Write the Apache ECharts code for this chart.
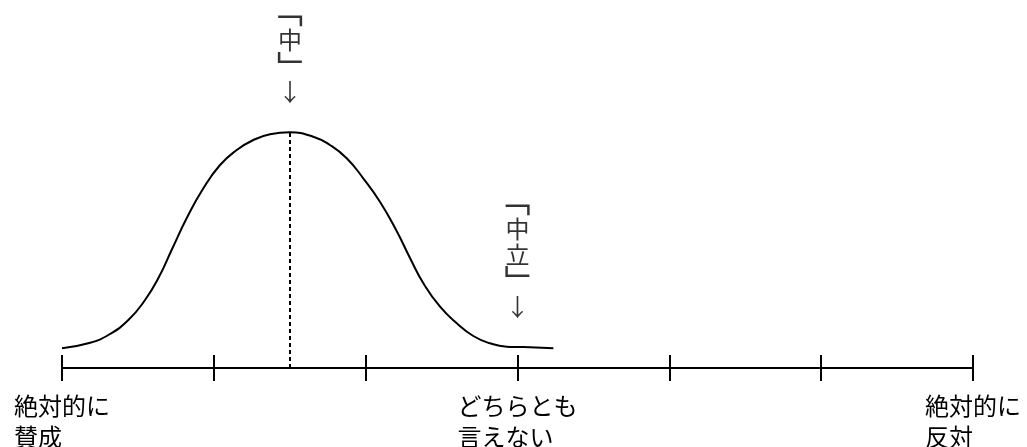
<!DOCTYPE html>
<html>
<head>
<meta charset="utf-8">
<script src="https://cdn.jsdelivr.net/npm/echarts@6/dist/echarts.min.js"></script>
<style>
  html, body { margin: 0; padding: 0; background: #fff; }
  #chart { width: 1027px; height: 447px; }
</style>
</head>
<body>
<div id="chart"></div>
<script>
// Opinion scale: 0 = strongly agree, 3 = neutral, 6 = strongly disagree
const scaleTicks = [0, 1, 2, 3, 4, 5, 6];
const tickLabels = {
  0: '絶対的に\n賛成　　',
  3: 'どちらとも\n言えない　',
  6: '絶対的に\n反対　　'
};

// Distribution curve of opinions (position on the scale, relative height)
const curveX = [0.000, 0.173, 0.305, 0.437, 0.547, 0.634, 0.722, 0.821, 0.931, 1.041,
                1.151, 1.260, 1.370, 1.502, 1.655, 1.765, 1.875, 1.984, 2.094, 2.204,
                2.292, 2.380, 2.490, 2.600, 2.709, 2.819, 2.929, 3.000, 3.082, 3.236];
const curveY = [19.7, 24.7, 33.0, 48.0, 68.0, 89.7, 118.0, 149.7, 179.7, 203.0,
                218.0, 228.0, 233.7, 235.7, 231.3, 223.0, 209.7, 189.7, 166.3, 137.0,
                110.0, 84.7, 61.3, 44.7, 32.0, 24.7, 21.3, 21.0, 20.7, 19.7];

// Annotations written vertically above the curve
const noteX = [1.502, 3.000];
const noteText = [['中'], ['中', '立']];

// Mode of the distribution (dashed guide)
const modeX = 1.502;

const curveData = curveX.map((x, i) => [x, curveY[i]]);
const heightAt = x => curveY[curveX.indexOf(x)];
const modeY = heightAt(modeX);

// vertical layout: one glyph per line, corner brackets in vertical form
const verticalNote = chars =>
  ['{open|﹁}'].concat(chars.map(c => '{ch|' + c + '}'), ['{close|﹂}', '{ar|↓}']).join('\n');

const FONT = '"Noto Sans CJK JP", "Noto Sans CJK SC", sans-serif';

const chart = echarts.init(document.getElementById('chart'), null, { renderer: 'canvas' });

const baseAxis = {
  type: 'value',
  min: 0,
  max: 6,
  interval: 1,
  position: 'bottom',
  splitLine: { show: false }
};

chart.setOption({
  backgroundColor: '#ffffff',
  animation: false,
  grid: {
    left: 62, right: 54, top: 28, bottom: 79,
    outerBoundsMode: 'none',
    containLabel: false
  },
  xAxis: [
    Object.assign({}, baseAxis, {
      axisLine: { show: true, lineStyle: { color: '#000', width: 2 } },
      axisTick: { show: true, inside: false, length: 13, lineStyle: { color: '#000', width: 2 } },
      axisLabel: {
        show: true,
        margin: 22,
        color: '#000',
        fontFamily: FONT,
        fontSize: 24,
        lineHeight: 31,
        align: 'center',
        verticalAlign: 'top',
        formatter: v => tickLabels[v] || ''
      }
    }),
    Object.assign({}, baseAxis, {
      axisLine: { show: false },
      axisTick: { show: true, inside: true, length: 13, lineStyle: { color: '#000', width: 2 } },
      axisLabel: { show: false }
    })
  ],
  yAxis: {
    type: 'value',
    min: 0,
    max: 340,
    show: false,
    splitLine: { show: false }
  },
  series: [
    {
      type: 'line',
      xAxisIndex: 0,
      data: curveData,
      smooth: 0.5,
      showSymbol: false,
      lineStyle: { color: '#000', width: 2 },
      markLine: {
        silent: true,
        symbol: ['none', 'none'],
        label: { show: false },
        lineStyle: { color: '#000', width: 2, type: [4, 3] },
        data: [[{ coord: [modeX, 0] }, { coord: [modeX, modeY] }]]
      }
    },
    {
      type: 'scatter',
      xAxisIndex: 0,
      symbolSize: 0,
      data: noteX.map((x, i) => ({ value: [x, heightAt(x)], name: verticalNote(noteText[i]) })),
      label: {
        show: true,
        position: 'top',
        distance: 30,
        color: '#000',
        fontFamily: FONT,
        align: 'center',
        formatter: p => p.name,
        rich: {
          // vertical bracket glyphs sit off-centre in their em box; pad to centre the ink
          open: { fontFamily: FONT, fontSize: 34, lineHeight: 34, padding: [0, 8, 0, 0], color: '#000' },
          close: { fontFamily: FONT, fontSize: 34, lineHeight: 29, padding: [0, 0, 0, 8], color: '#000' },
          ch: { fontFamily: FONT, fontSize: 24, lineHeight: 26, color: '#000' },
          ar: { fontFamily: FONT, fontSize: 24, lineHeight: 20, color: '#000' }
        }
      }
    }
  ]
});
</script>
</body>
</html>
